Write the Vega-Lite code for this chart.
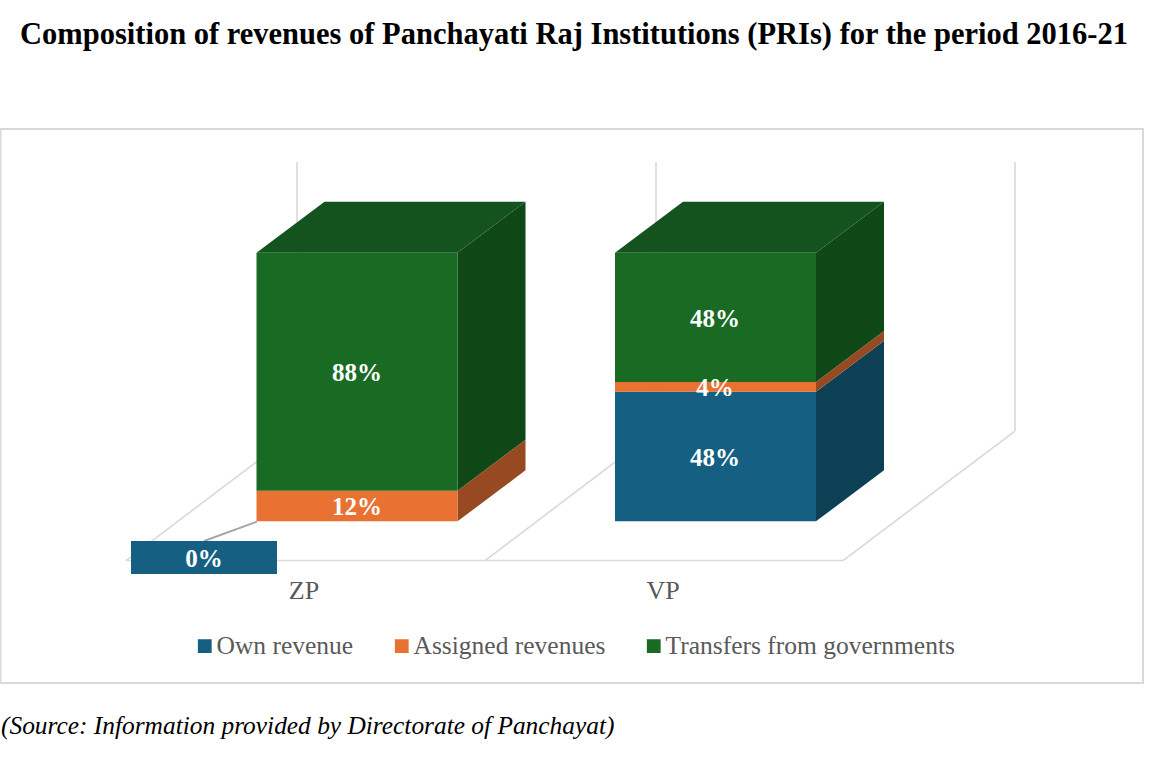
{
"$schema":"https://vega.github.io/schema/vega-lite/v6.json",
"width":1150,"height":758,"padding":0,"autosize":{"type":"none"},
"background":"white",
"title":{"text":"Composition of revenues of Panchayati Raj Institutions (PRIs) for the period 2016-21","font":"Liberation Serif","fontSize":30.5,"fontWeight":"bold","color":"black","anchor":"middle","offset":-74,"dx":-1,"baseline":"alphabetic"},
"config":{"view":{"stroke":null}},
"datasets":{
"frame":[{"x":0.5,"x2":1143,"v":146.05,"v2":-60.2}],
"walls":[
{"x":126,"x2":843,"v":-14.6,"v2":-14.6},
{"x":126,"x2":297,"v":-14.6,"v2":33.6},
{"x":485,"x2":656,"v":-14.6,"v2":33.6},
{"x":843,"x2":1015,"v":-14.6,"v2":33.6},
{"x":297,"x2":297,"v":33.6,"v2":133.8},
{"x":656,"x2":656,"v":33.6,"v2":133.8},
{"x":1015,"x2":1015,"v":33.6,"v2":133.8}],
"leader":[{"x":257,"x2":204,"v":-0.1,"v2":-7.3}],
"front":[
{"cat":"ZP","series":"Own revenue","x":256.5,"x2":457.5,"v":0,"v2":0},
{"cat":"ZP","series":"Assigned revenues","x":256.5,"x2":457.5,"v":0,"v2":11.4},
{"cat":"ZP","series":"Transfers from governments","x":256.5,"x2":457.5,"v":11.4,"v2":100},
{"cat":"VP","series":"Own revenue","x":615,"x2":816,"v":0,"v2":48.2},
{"cat":"VP","series":"Assigned revenues","x":615,"x2":816,"v":48.2,"v2":51.9},
{"cat":"VP","series":"Transfers from governments","x":615,"x2":816,"v":51.9,"v2":100}],
"side":[
{"cat":"ZP","series":"Assigned revenues","x":457.5,"v":0,"v2":11.4},
{"cat":"ZP","series":"Assigned revenues","x":525.5,"v":19,"v2":30.4},
{"cat":"ZP","series":"Transfers from governments","x":457.5,"v":11.4,"v2":100},
{"cat":"ZP","series":"Transfers from governments","x":525.5,"v":30.4,"v2":119},
{"cat":"VP","series":"Own revenue","x":816,"v":0,"v2":48.2},
{"cat":"VP","series":"Own revenue","x":884,"v":19,"v2":67.2},
{"cat":"VP","series":"Assigned revenues","x":816,"v":48.2,"v2":51.9},
{"cat":"VP","series":"Assigned revenues","x":884,"v":67.2,"v2":70.9},
{"cat":"VP","series":"Transfers from governments","x":816,"v":51.9,"v2":100},
{"cat":"VP","series":"Transfers from governments","x":884,"v":70.9,"v2":119}],
"top":[
{"cat":"ZP","x":256.5,"v":100,"v2":100},
{"cat":"ZP","x":324.5,"v":119,"v2":100},
{"cat":"ZP","x":457.5,"v":119,"v2":100},
{"cat":"ZP","x":525.5,"v":119,"v2":119},
{"cat":"VP","x":615,"v":100,"v2":100},
{"cat":"VP","x":683,"v":119,"v2":100},
{"cat":"VP","x":816,"v":119,"v2":100},
{"cat":"VP","x":884,"v":119,"v2":119}],
"box":[{"x":131,"x2":277,"v":-7.3,"v2":-19.6}],
"labels":[
{"label":"88%","x":357,"v":55.2},
{"label":"12%","x":357,"v":5.3},
{"label":"0%","x":204,"v":-14},
{"label":"48%","x":715,"v":75.3},
{"label":"4%","x":715,"v":49.6},
{"label":"48%","x":715,"v":23.6}],
"cats":[{"label":"ZP","x":304,"v":-25.9},{"label":"VP","x":663,"v":-25.9}],
"source":[{"label":"(Source: Information provided by Directorate of Panchayat)","x":1,"v":-76.2}]
},
"encoding":{
"x":{"field":"x","type":"quantitative","axis":null,"scale":{"domain":[0,1150],"nice":false,"zero":false}},
"y":{"field":"v","type":"quantitative","axis":null,"scale":{"domain":[-88.1,194.08],"nice":false,"zero":false}}
},
"layer":[
{"data":{"name":"frame"},"mark":{"type":"rect","fill":"white","stroke":"#D9D9D9","strokeWidth":2},
 "encoding":{"x2":{"field":"x2"},"y2":{"field":"v2"}}},
{"data":{"name":"walls"},"mark":{"type":"rule","stroke":"#D9D9D9","strokeWidth":1.6},
 "encoding":{"x2":{"field":"x2"},"y2":{"field":"v2"}}},
{"data":{"name":"leader"},"mark":{"type":"rule","stroke":"#A6A6A6","strokeWidth":2},
 "encoding":{"x2":{"field":"x2"},"y2":{"field":"v2"}}},
{"data":{"name":"side"},"mark":{"type":"area","opacity":1},
 "encoding":{"y2":{"field":"v2"},"detail":{"field":"cat"},
  "color":{"field":"series","type":"nominal","legend":null,"scale":{"domain":["Own revenue","Assigned revenues","Transfers from governments"],"range":["#0D3F55","#974A21","#104717"]}}}},
{"data":{"name":"top"},"mark":{"type":"area","color":"#14531D","opacity":1},
 "encoding":{"y2":{"field":"v2"},"detail":{"field":"cat"}}},
{"data":{"name":"front"},"mark":{"type":"rect"},
 "encoding":{"x2":{"field":"x2"},"y2":{"field":"v2"},
  "color":{"field":"series","type":"nominal","scale":{"domain":["Own revenue","Assigned revenues","Transfers from governments"],"range":["#156082","#E97132","#196B24"]},
   "legend":{"title":null,"orient":"none","legendX":192,"legendY":633,"direction":"horizontal","columns":3,"symbolType":"square","symbolSize":190,"symbolStrokeWidth":0,"symbolOpacity":1,"labelFont":"Liberation Serif","labelFontSize":25.5,"labelColor":"#595959","labelOffset":-1,"columnPadding":35,"labelLimit":400}}}},
{"data":{"name":"box"},"mark":{"type":"rect","fill":"#156082"},
 "encoding":{"x2":{"field":"x2"},"y2":{"field":"v2"}}},
{"data":{"name":"labels"},"mark":{"type":"text","font":"Liberation Serif","fontSize":25,"fontWeight":"bold","color":"white","baseline":"middle","align":"center"},
 "encoding":{"text":{"field":"label"}}},
{"data":{"name":"cats"},"mark":{"type":"text","font":"Liberation Serif","fontSize":26,"color":"#595959","baseline":"middle","align":"center"},
 "encoding":{"text":{"field":"label"}}},
{"data":{"name":"source"},"mark":{"type":"text","font":"Liberation Serif","fontSize":25.4,"fontStyle":"italic","color":"black","baseline":"middle","align":"left"},
 "encoding":{"text":{"field":"label"}}}
],
"resolve":{"scale":{"color":"independent"}}
}
